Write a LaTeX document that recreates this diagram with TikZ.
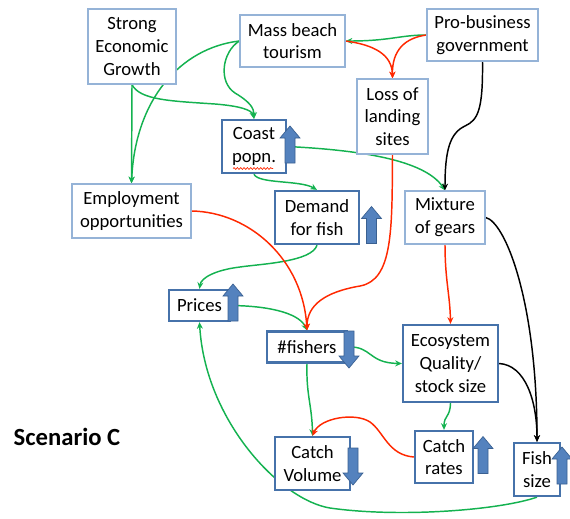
\documentclass[tikz,border=0pt]{standalone}
\usepackage{fontspec}
\setmainfont{Carlito}
\usetikzlibrary{arrows.meta,backgrounds,decorations.pathmorphing}
\definecolor{lightedge}{RGB}{149,179,215}
\definecolor{darkedge}{RGB}{70,114,170}
\definecolor{blockfill}{RGB}{84,130,190}
\definecolor{blockedge}{RGB}{58,96,145}
\definecolor{linkgreen}{RGB}{20,178,80}
\definecolor{linkred}{RGB}{255,40,0}
\newcommand{\boxfont}{\fontsize{14}{17}\selectfont}
\tikzset{every picture/.style={line width=0.75pt}}
\tikzset{
  lightbox/.style={draw=lightedge, line width=1pt, fill=white, align=center, inner sep=0pt, font=\boxfont},
  darkbox/.style={draw=darkedge, line width=1.7pt, fill=white, align=center, inner sep=0pt, font=\boxfont},
  link/.style={line width=1.1pt, -{Stealth[length=5pt,width=4.5pt]}},
  poslink/.style={link, draw=linkgreen},
  neglink/.style={link, draw=linkred},
  blacklink/.style={link, draw=black},
  uparr/.pic={\draw[fill=blockfill, draw=blockedge, line width=0.5pt] (-5,-18.5) -- (-5,6.5) -- (-10,6.5) -- (0,18.5) -- (10,6.5) -- (5,6.5) -- (5,-18.5) -- cycle;},
  downarr/.pic={\draw[fill=blockfill, draw=blockedge, line width=0.5pt] (-5,18.5) -- (-5,-6.5) -- (-10,-6.5) -- (0,-18.5) -- (10,-6.5) -- (5,-6.5) -- (5,18.5) -- cycle;}
}
\begin{document}
\begin{tikzpicture}[x=0.75pt,y=0.75pt,yscale=-1,xscale=1]
\useasboundingbox (0,0) rectangle (570,518);

%Shape: Rectangle [drivers]
\node[lightbox, minimum width=66pt, minimum height=56.25pt] (strong) at (132,46.5) {Strong\\Economic\\Growth};
\node[lightbox, minimum width=78.75pt, minimum height=39pt] (mass) at (292.5,41) {Mass beach\\tourism};
\node[lightbox, minimum width=83.25pt, minimum height=39pt] (pro) at (482.5,35) {Pro-business\\government};
\node[lightbox, minimum width=53.25pt, minimum height=56.25pt] (loss) at (392.5,116.5) {Loss of\\landing\\sites};
\node[lightbox, minimum width=89.25pt, minimum height=40.5pt] (employ) at (131.5,211) {Employment\\opportunities};
\node[lightbox, minimum width=60pt, minimum height=39.75pt] (mixture) at (445,217.5) {Mixture\\of gears};

%Shape: Rectangle [changing variables]
\node[darkbox, minimum width=48pt, minimum height=39.75pt] (coast) at (254,146.5) {Coast\\popn.};
\node[darkbox, minimum width=63pt, minimum height=39.75pt] (demand) at (317,217.5) {Demand\\for fish};
\node[darkbox, minimum width=45.75pt, minimum height=23.25pt] (prices) at (199.5,305.5) {Prices};
\node[darkbox, minimum width=60pt, minimum height=23.25pt] (fishers) at (307,347) {\#fishers};
\node[darkbox, minimum width=71.25pt, minimum height=57.75pt] (eco) at (450.5,363.5) {Ecosystem\\Quality/\\stock size};
\node[darkbox, minimum width=56.25pt, minimum height=39.75pt] (volume) at (312.5,463.5) {Catch\\Volume};
\node[darkbox, minimum width=43.5pt, minimum height=39pt] (rates) at (444,457) {Catch\\rates};
\node[darkbox, minimum width=34.5pt, minimum height=39.75pt] (fishsize) at (537,469.5) {Fish\\size};

% Text Node
\node[font=\bfseries\fontsize{18.5}{22}\selectfont] (scenario) at (67,437) {Scenario C};

%Spell check squiggle
\draw[linkred, line width=0.5pt, decorate, decoration={snake, amplitude=0.7pt, segment length=2.5pt}] (233,168.5) -- (273,168.5);

%Block arrows
\pic at (290,144.5) {uparr};
\pic at (371.5,225) {uparr};
\pic at (233,302.5) {uparr};
\pic at (349,349.5) {downarr};
\pic at (353,466.5) {downarr};
\pic at (483,455) {uparr};
\pic at (562,465.5) {uparr};

\begin{pgfonlayer}{background}
%Curve Lines [green]
\draw[poslink] (strong.south) -- (employ.north);
\draw[poslink] (strong.south) .. controls (140,100) and (170,101) .. (215,104) .. controls (240,106) and (252,110) .. (coast.north);
\draw[poslink] (mass.west) .. controls (180,48) and (135,100) .. (employ.north);
\draw[poslink] (mass.west) .. controls (222,52) and (218,82) .. (235,93) .. controls (250,102) and (254,108) .. (coast.north);
\draw[poslink] (pro.west) .. controls (400,35) and (390,41) .. (mass.east);
\draw[poslink] (coast.east) .. controls (360,150) and (425,160) .. (mixture.north);
\draw[poslink] (coast.south) .. controls (258,184) and (300,180) .. (demand.north);
\draw[poslink] (demand.south) .. controls (312,262) and (260,264) .. (240,267) .. controls (215,270) and (201,278) .. (prices.north);
\draw[poslink] (prices.east) .. controls (275,306) and (300,315) .. (fishers.north);
\draw[poslink] (fishers.east) .. controls (372,346) and (368,363) .. (eco.west);
\draw[poslink] (fishers.south) .. controls (306,395) and (312,405) .. (volume.north);
\draw[poslink] (eco.south) .. controls (450,418) and (444,415) .. (rates.north);
\draw[poslink] (fishsize.south) .. controls (500,510) and (400,518) .. (330,508) .. controls (280,500) and (205,420) .. (prices.south);
%Curve Lines [red]
\draw[neglink] (mass.east) .. controls (375,45) and (392,55) .. (loss.north);
\draw[neglink] (pro.west) .. controls (405,38) and (392,50) .. (loss.north);
\draw[neglink] (loss.south) .. controls (392,230) and (393,280) .. (360,286) .. controls (325,292) and (307,305) .. (fishers.north);
\draw[neglink] (employ.east) .. controls (250,212) and (303,260) .. (fishers.north);
\draw[neglink] (mixture.south) .. controls (445,280) and (450,295) .. (eco.north);
\draw[neglink] (rates.west) .. controls (388,455) and (384,432) .. (370,422) .. controls (355,412) and (320,418) .. (volume.north);
%Curve Lines [black]
\draw[blacklink] (pro.south) .. controls (483,110) and (478,120) .. (465,126) .. controls (450,133) and (445,150) .. (mixture.north);
\draw[blacklink] (mixture.east) .. controls (505,222) and (537,300) .. (fishsize.north);
\draw[blacklink] (eco.east) .. controls (525,365) and (537,400) .. (fishsize.north);
\end{pgfonlayer}

\end{tikzpicture}
\end{document}
